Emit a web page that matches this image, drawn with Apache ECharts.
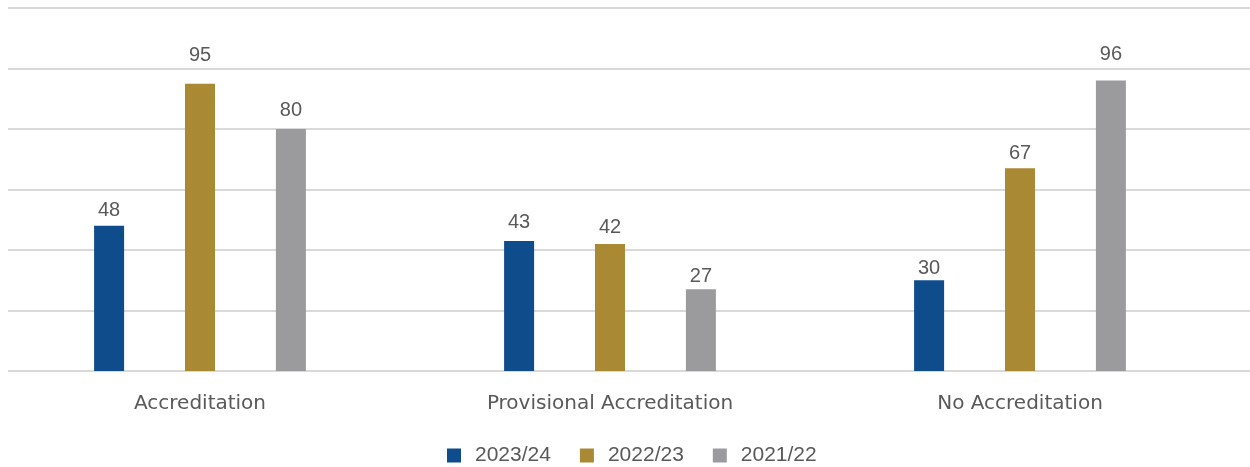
<!DOCTYPE html>
<html><head><meta charset="utf-8">
<script src="https://cdn.jsdelivr.net/npm/echarts@6/dist/echarts.min.js"></script>
<style>html,body{margin:0;padding:0;background:#fff}#c{width:1250px;height:467px}</style>
</head><body><div id="c"></div>
<script>
const categories = ['Accreditation', 'Provisional Accreditation', 'No Accreditation'];
const seriesNames = ['2023/24', '2022/23', '2021/22'];
const values2324 = [48, 43, 30];
const values2223 = [95, 42, 67];
const values2122 = [80, 27, 96];
// label gap above each bar (style only), as in the reference
const labelGaps = [[5, 8, 2], [18, 6, 5], [9, 3, 16]];
const colors = ['#0f4c8c', '#aa8935', '#9b9b9d'];
const font = '"DejaVu Sans", sans-serif';
const numFont = '"Liberation Sans", Arial, sans-serif';
const chart = echarts.init(document.getElementById('c'));
const mk = (name, data, i) => ({
  name, type: 'bar', xAxisIndex: 1, yAxisIndex: 1,
  data: data.map((v, j) => ({value: v, label: {distance: labelGaps[i][j]}})),
  barWidth: 30, barGap: '203%',
  itemStyle: {color: colors[i]},
  label: {show: true, position: 'top', color: '#595959', fontSize: 20, fontFamily: numFont}
});
chart.setOption({
  animation: false,
  color: colors,
  legend: {
    left: 442, top: 440, itemWidth: 14, itemHeight: 14, itemGap: 29,
    icon: 'rect',
    textStyle: {color: '#595959', fontSize: 21, fontFamily: numFont, padding: [0, 0, 0, 9]},
    data: seriesNames
  },
  grid: [
    {left: 8, right: 0, top: 8, bottom: 96, outerBoundsMode: 'none'},
    {left: -5, width: 1230, top: 8, bottom: 96, outerBoundsMode: 'none'}
  ],
  xAxis: [
    {type: 'category', gridIndex: 0, data: categories, show: false},
    {type: 'category', gridIndex: 1, data: categories,
     axisLine: {show: false}, axisTick: {show: false},
     axisLabel: {color: '#595959', fontSize: 20, fontFamily: font, margin: 23}}
  ],
  yAxis: [
    {type: 'value', gridIndex: 0, min: 0, max: 120, interval: 20,
     axisLabel: {show: false}, axisLine: {show: false}, axisTick: {show: false},
     splitLine: {lineStyle: {color: '#d9d9d9', width: 2}}},
    {type: 'value', gridIndex: 1, min: 0, max: 120, interval: 20, show: false,
     splitLine: {show: false}}
  ],
  series: [mk(seriesNames[0], values2324, 0), mk(seriesNames[1], values2223, 1), mk(seriesNames[2], values2122, 2)]
});
</script></body></html>
